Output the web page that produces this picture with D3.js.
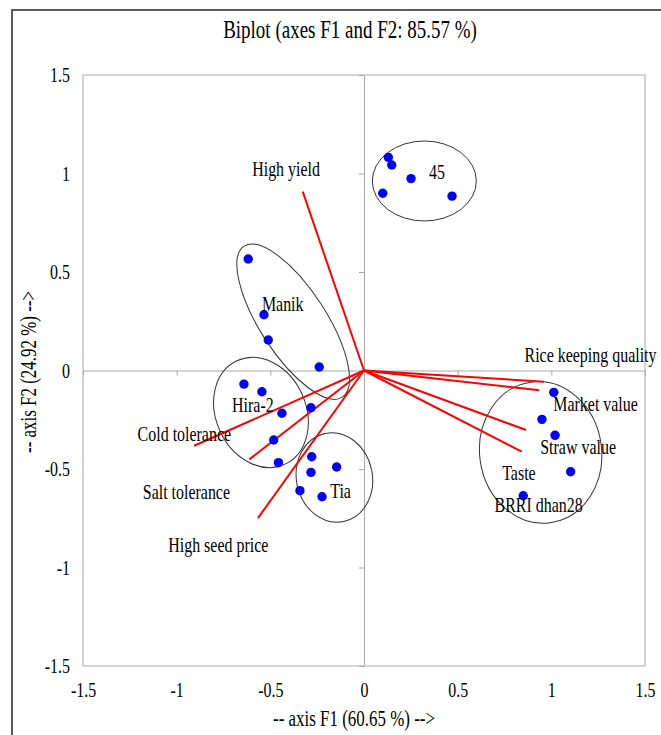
<!DOCTYPE html>
<html>
<head>
<meta charset="utf-8">
<script src="https://cdn.jsdelivr.net/npm/d3@7/dist/d3.min.js"></script>
<style>
  html, body { margin: 0; padding: 0; background: #fff; }
  svg text { font-family: "Liberation Serif", "Times New Roman", serif; fill: #000; }
</style>
</head>
<body>
<svg id="chart" width="661" height="735"></svg>
<script>
// Observation scores on F1 / F2, one array per variety group
const groupNames = ["45", "Manik", "Hira-2", "Tia", "BRRI dhan28"];
const obsGroup = [0,0,0,0,0, 1,1,1,1, 2,2,2,2,2,2, 3,3,3,3,3, 4,4,4,4,4];
const obsF1 = [0.13, 0.148, 0.251, 0.10, 0.47,
               -0.618, -0.534, -0.511, -0.239,
               -0.641, -0.545, -0.438, -0.283, -0.482, -0.457,
               -0.279, -0.146, -0.283, -0.342, -0.224,
               1.013, 0.95, 1.02, 1.103, 0.85];
const obsF2 = [1.082, 1.043, 0.974, 0.90, 0.885,
               0.566, 0.283, 0.155, 0.018,
               -0.069, -0.108, -0.217, -0.189, -0.353, -0.468,
               -0.438, -0.49, -0.517, -0.61, -0.641,
               -0.111, -0.248, -0.329, -0.514, -0.636];

// Variable loadings (vectors from the origin)
const varNames = ["High yield", "Rice keeping quality", "Market value", "Straw value",
                  "Taste", "Cold tolerance", "Salt tolerance", "High seed price"];
const varF1 = [-0.327, 0.961, 0.936, 0.865, 0.842, -0.907, -0.612, -0.566];
const varF2 = [0.908, -0.057, -0.10, -0.302, -0.412, -0.382, -0.451, -0.749];

// Axis ticks
const tickValues = [-1.5, -1, -0.5, 0, 0.5, 1, 1.5];

// Text annotations (data coordinates of the text centre)
const varLabelPos = [[-0.416, 1.025], [1.209, 0.081], [1.236, -0.168], [1.143, -0.386],
                     [0.827, -0.516], [-0.959, -0.322], [-0.948, -0.613], [-0.778, -0.885]];
const groupLabelPos = [[0.389, 1.007], [-0.434, 0.34], [-0.593, -0.173], [-0.125, -0.609], [0.932, -0.68]];
// Group enclosures: centre in data units, semi-axes in px, rotation in degrees
const groupEllipses = [
  { c: [0.322, 0.962],  rx: 52, ry: 40, rot: 0 },
  { c: [-0.378, 0.248], rx: 90, ry: 33, rot: 57 },
  { c: [-0.55, -0.213], rx: 45, ry: 57, rot: -25 },
  { c: [-0.158, -0.543], rx: 38, ry: 45, rot: -12 },
  { c: [0.943, -0.416], rx: 61, ry: 71, rot: -8 }
];

const svg = d3.select("#chart");
const plotL = 83, plotR = 645, plotT = 75, plotB = 666;
const x = d3.scaleLinear().domain([-1.5, 1.5]).range([plotL, plotR]);
const y = d3.scaleLinear().domain([-1.5, 1.5]).range([plotB, plotT]);
const SX = 0.76; // horizontal condensing of the serif text

function label(g, px, py, text, size, anchor = "middle") {
  return g.append("text")
    .attr("transform", `translate(${px},${py}) scale(${SX},1)`)
    .attr("text-anchor", anchor)
    .attr("dy", "0.35em")
    .style("font-size", size + "px")
    .text(text);
}

// outer frame
svg.append("rect").attr("x", 12).attr("y", 10).attr("width", 700).attr("height", 760)
  .attr("fill", "none").attr("stroke", "#5a5a5a").attr("stroke-width", 2);

// plot area
svg.append("rect").attr("x", plotL).attr("y", plotT).attr("width", plotR - plotL).attr("height", plotB - plotT)
  .attr("fill", "none").attr("stroke", "#c6c6c6").attr("stroke-width", 1.5);

// zero axes with tick marks
const axX = svg.append("g").attr("transform", `translate(0,${y(0)})`)
  .call(d3.axisBottom(x).tickValues(tickValues).tickSize(5).tickSizeOuter(0).tickFormat(""));
const axY = svg.append("g").attr("transform", `translate(${x(0)},0)`)
  .call(d3.axisLeft(y).tickValues(tickValues).tickSize(5).tickSizeOuter(0).tickFormat(""));
[axX, axY].forEach(a => {
  a.select(".domain").attr("stroke", "#a8a8a8");
  a.selectAll(".tick line").attr("stroke", "#a8a8a8");
});

// tick labels along the plot edges
const xl = svg.append("g").attr("transform", `translate(0,${plotB})`)
  .call(d3.axisBottom(x).tickValues(tickValues).tickSize(0).tickPadding(16).tickFormat(d => String(d)));
xl.select(".domain").remove();
xl.selectAll("text").attr("transform", `scale(${SX},1)`).style("font-size", "21px")
  .style("font-family", "Liberation Serif").attr("fill", "#000");

const yl = svg.append("g").attr("transform", `translate(${plotL},0)`)
  .call(d3.axisLeft(y).tickValues(tickValues).tickSize(0).tickPadding(13).tickFormat(d => String(d)));
yl.select(".domain").remove();
yl.selectAll("text").attr("x", -13 / SX).attr("transform", `scale(${SX},1)`).style("font-size", "21px")
  .style("font-family", "Liberation Serif").attr("fill", "#000");

// titles
label(svg, 350, 29, "Biplot (axes F1 and F2: 85.57 %)", 25);
label(svg, 354, 718, "-- axis F1 (60.65 %) -->", 22.3);
svg.append("text")
  .attr("transform", `translate(28,372) rotate(-90) scale(${SX},1)`)
  .attr("text-anchor", "middle").attr("dy", "0.35em")
  .style("font-size", "22.3px")
  .text("-- axis F2 (24.92 %) -->");

// group ellipses
svg.append("g").selectAll("ellipse").data(groupEllipses).join("ellipse")
  .attr("transform", d => `translate(${x(d.c[0])},${y(d.c[1])}) rotate(${d.rot})`)
  .attr("rx", d => d.rx).attr("ry", d => d.ry)
  .attr("fill", "none").attr("stroke", "#333").attr("stroke-width", 1);

// loading vectors
svg.append("g").selectAll("line").data(varNames).join("line")
  .attr("x1", x(0)).attr("y1", y(0))
  .attr("x2", (d, i) => x(varF1[i])).attr("y2", (d, i) => y(varF2[i]))
  .attr("stroke", "#ff0000").attr("stroke-width", 2);

// observation points
svg.append("g").selectAll("circle").data(obsF1).join("circle")
  .attr("cx", (d, i) => x(obsF1[i])).attr("cy", (d, i) => y(obsF2[i]))
  .attr("r", 4.7).attr("fill", "#0000ff");

// labels
const lg = svg.append("g");
varNames.forEach((n, i) => label(lg, x(varLabelPos[i][0]), y(varLabelPos[i][1]), n, 21));
groupNames.forEach((n, i) => label(lg, x(groupLabelPos[i][0]), y(groupLabelPos[i][1]), n, 21));
</script>
</body>
</html>
